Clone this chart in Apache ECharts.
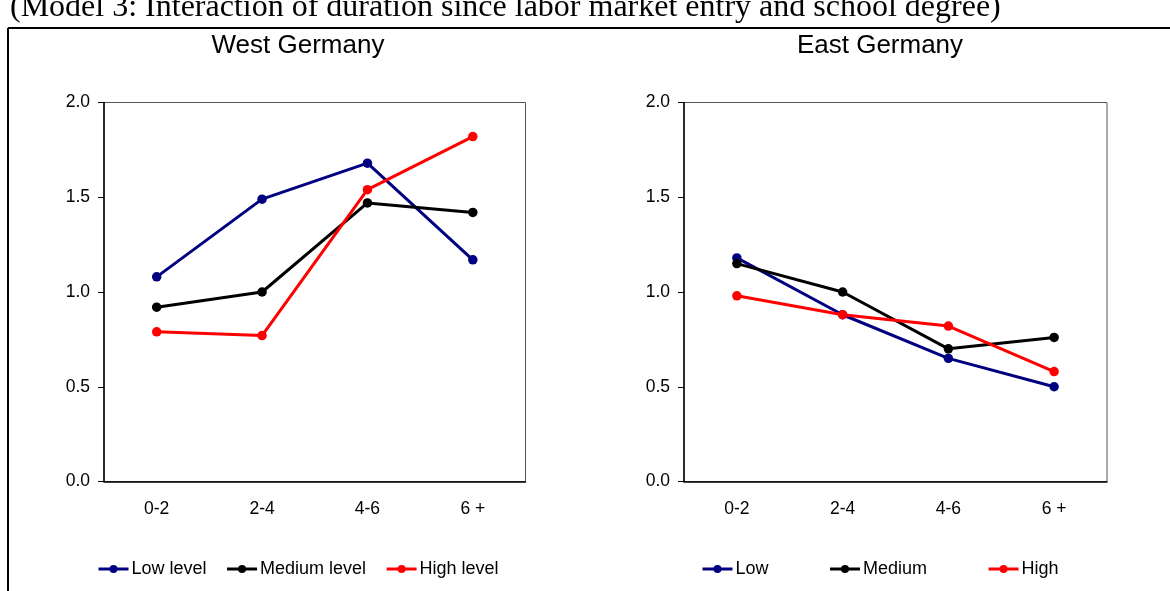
<!DOCTYPE html>
<html>
<head>
<meta charset="utf-8">
<script src="https://cdn.jsdelivr.net/npm/echarts@6/dist/echarts.min.js"></script>
<style>
html,body{margin:0;padding:0;background:#fff;}
#chart{width:1170px;height:591px;}
</style>
</head>
<body>
<div id="chart"></div>
<script>
const categories = ['0-2', '2-4', '4-6', '6 +'];
const yTicks = [0, 0.5, 1.0, 1.5, 2.0];

const westLow = [1.08, 1.49, 1.68, 1.17];
const westMedium = [0.92, 1.00, 1.47, 1.42];
const westHigh = [0.79, 0.77, 1.54, 1.82];

const eastLow = [1.18, 0.88, 0.65, 0.50];
const eastMedium = [1.15, 1.00, 0.70, 0.76];
const eastHigh = [0.98, 0.88, 0.82, 0.58];

const westNames = ['Low level', 'Medium level', 'High level'];
const eastNames = ['Low', 'Medium', 'High'];
const colors = ['#000080', '#000000', '#FF0000'];

const FONT = '"Liberation Sans", Arial, sans-serif';

function xAxisFor(gi) {
  return {
    type: 'category', gridIndex: gi, data: categories, boundaryGap: true,
    axisLine: {lineStyle: {color: '#000', width: 1.5}},
    axisTick: {show: false},
    axisLabel: {color: '#000', fontSize: 17.5, fontFamily: FONT, margin: 19},
    splitLine: {show: false}
  };
}
function yAxisFor(gi) {
  return {
    type: 'value', gridIndex: gi, min: yTicks[0], max: yTicks[yTicks.length - 1], interval: 0.5,
    axisLine: {show: true, lineStyle: {color: '#000', width: 1.5}},
    axisTick: {show: true, length: 6, lineStyle: {color: '#000', width: 1}},
    axisLabel: {color: '#000', fontSize: 17.5, fontFamily: FONT, margin: 14,
      formatter: v => v.toFixed(1)},
    splitLine: {show: false}
  };
}
function lineSeries(name, data, color, gi) {
  return {
    type: 'line', name: name, data: data, xAxisIndex: gi, yAxisIndex: gi,
    symbol: 'circle', symbolSize: 9.5, showSymbol: true,
    lineStyle: {color: color, width: 3},
    itemStyle: {color: color},
    animation: false
  };
}

const chart = echarts.init(document.getElementById('chart'), null, {renderer: 'canvas'});
chart.setOption({
  backgroundColor: '#fff',
  animation: false,
  title: [
    {text: 'West Germany', left: 298, top: 33, textAlign: 'center', padding: 0,
     textStyle: {fontSize: 26, fontWeight: 'normal', color: '#000', fontFamily: FONT}},
    {text: 'East Germany', left: 880, top: 33, textAlign: 'center', padding: 0,
     textStyle: {fontSize: 26, fontWeight: 'normal', color: '#000', fontFamily: FONT}}
  ],
  grid: [
    {left: 104, top: 102.5, width: 421.5, height: 379, show: true, borderColor: '#555', borderWidth: 1, backgroundColor: 'transparent'},
    {left: 684, top: 102.5, width: 423, height: 379, show: true, borderColor: '#555', borderWidth: 1, backgroundColor: 'transparent'}
  ],
  xAxis: [xAxisFor(0), xAxisFor(1)],
  yAxis: [yAxisFor(0), yAxisFor(1)],
  legend: [
    {data: westNames, left: 97, top: 560, itemWidth: 30, itemHeight: 10, itemGap: 19,
     padding: 0, lineStyle: {width: 3},
     textStyle: {fontSize: 18, color: '#000', fontFamily: FONT, padding: [0, 0, 0, -2]}},
    {data: eastNames, left: 701, top: 560, itemWidth: 30, itemHeight: 10, itemGap: 60,
     padding: 0, lineStyle: {width: 3},
     textStyle: {fontSize: 18, color: '#000', fontFamily: FONT, padding: [0, 0, 0, -2]}}
  ],
  graphic: [
    {type: 'text', left: 10, top: -8,
     style: {text: '(Model 3: Interaction of duration since labor market entry and school degree)',
       font: '32px "Liberation Serif", "Times New Roman", serif', fill: '#000'}},
    {type: 'line', shape: {x1: 8, y1: 28, x2: 1170, y2: 28}, style: {stroke: '#000', lineWidth: 2}},
    {type: 'line', shape: {x1: 8, y1: 28, x2: 8, y2: 591}, style: {stroke: '#000', lineWidth: 2}}
  ],
  series: [
    lineSeries(westNames[0], westLow, colors[0], 0),
    lineSeries(westNames[1], westMedium, colors[1], 0),
    lineSeries(westNames[2], westHigh, colors[2], 0),
    lineSeries(eastNames[0], eastLow, colors[0], 1),
    lineSeries(eastNames[1], eastMedium, colors[1], 1),
    lineSeries(eastNames[2], eastHigh, colors[2], 1)
  ]
});
</script>
</body>
</html>
